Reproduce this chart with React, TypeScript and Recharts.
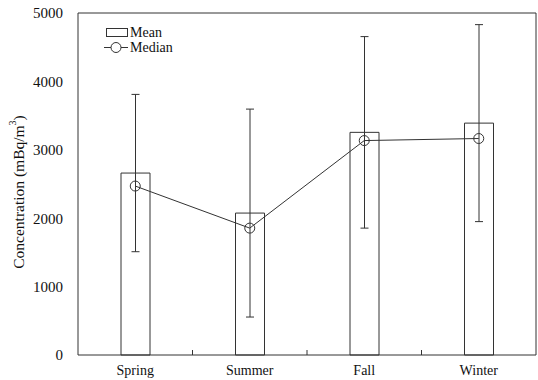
import { ComposedChart, Bar, Line, XAxis, YAxis, ErrorBar } from 'recharts'

const seasons = ['Spring', 'Summer', 'Fall', 'Winter']
const meanValues = [2660, 2075, 3255, 3390]
const medianValues = [2470, 1855, 3135, 3165]
const sdValues = [1150, 1520, 1400, 1440]
const yTicks = [0, 1000, 2000, 3000, 4000, 5000]
const seasonBounds = [1, 2, 3]

const data = seasons.map((season, i) => ({
  season,
  slot: i + 0.5,
  mean: meanValues[i],
  median: medianValues[i],
  sd: sdValues[i],
}))

const FONT = "'Liberation Serif', 'Times New Roman', serif"
const INK = '#333'

function YLabel({ viewBox }: any) {
  const cx = 18
  const cy = viewBox ? viewBox.y + viewBox.height / 2 + 8 : 192
  return (
    <text
      x={cx}
      y={cy}
      transform={`rotate(-90 ${cx} ${cy})`}
      textAnchor="middle"
      dominantBaseline="central"
      fontFamily={FONT}
      fontSize={15.5}
      fill="#111"
    >
      Concentration (mBq/m
      <tspan dy={-6} fontSize={10}>3</tspan>
      <tspan dy={6}>)</tspan>
    </text>
  )
}

function LegendBox() {
  return (
    <svg
      width={90}
      height={40}
      style={{ position: 'absolute', left: 103, top: 25, fontFamily: FONT, fontSize: 14 }}
    >
      <rect x={3.5} y={3.5} width={21} height={8} fill="#fff" stroke={INK} />
      <text x={27} y={12} fill="#111">Mean</text>
      <line x1={1} y1={22.5} x2={25} y2={22.5} stroke={INK} />
      <circle cx={13} cy={22.5} r={5} fill="#fff" stroke={INK} />
      <text x={27} y={27} fill="#111">Median</text>
    </svg>
  )
}

// inward tick marks between the seasons
function BoundTick({ x, y }: any) {
  return <line x1={x} y1={y} x2={x} y2={y - 5} stroke={INK} />
}

export default function App() {
  return (
    <div style={{ position: 'relative', width: 538, height: 380 }}>
      <style>{`body{margin:0}`}</style>
      <ComposedChart
        width={538}
        height={380}
        data={data}
        margin={{ top: 12, right: 1, left: 0, bottom: 0 }}
      >
        <XAxis
          xAxisId="bounds"
          dataKey="slot"
          type="number"
          domain={[0, 4]}
          allowDataOverflow
          ticks={seasonBounds}
          tick={<BoundTick />}
          tickLine={false}
          tickSize={0}
          tickMargin={0}
          height={1}
          stroke={INK}
        />
        <XAxis
          xAxisId="cat"
          dataKey="season"
          axisLine={false}
          tickLine={false}
          tickSize={0}
          tickMargin={9}
          height={24}
          stroke={INK}
          tick={{ fill: '#111', fontFamily: FONT, fontSize: 14 }}
        />
        <XAxis
          xAxisId="top"
          dataKey="season"
          orientation="top"
          tick={false}
          tickLine={false}
          height={1}
          stroke={INK}
        />
        <YAxis
          domain={[0, 5000]}
          ticks={yTicks}
          tickLine={false}
          tickSize={0}
          tickMargin={15}
          width={78}
          stroke={INK}
          tick={{ fill: '#111', fontFamily: FONT, fontSize: 15 }}
          label={<YLabel />}
        />
        <YAxis
          yAxisId="right"
          orientation="right"
          tick={false}
          tickLine={false}
          width={1}
          stroke={INK}
        />
        <Bar
          xAxisId="cat"
          dataKey="mean"
          name="Mean"
          barSize={29}
          fill="#fff"
          stroke={INK}
          isAnimationActive={false}
        >
          <ErrorBar dataKey="sd" width={4} stroke={INK} strokeWidth={1} />
        </Bar>
        <Line
          xAxisId="cat"
          dataKey="median"
          name="Median"
          stroke={INK}
          strokeWidth={1}
          dot={{ r: 5, fill: 'none', stroke: INK, strokeWidth: 1 }}
          isAnimationActive={false}
        />
      </ComposedChart>
      <LegendBox />
    </div>
  )
}
